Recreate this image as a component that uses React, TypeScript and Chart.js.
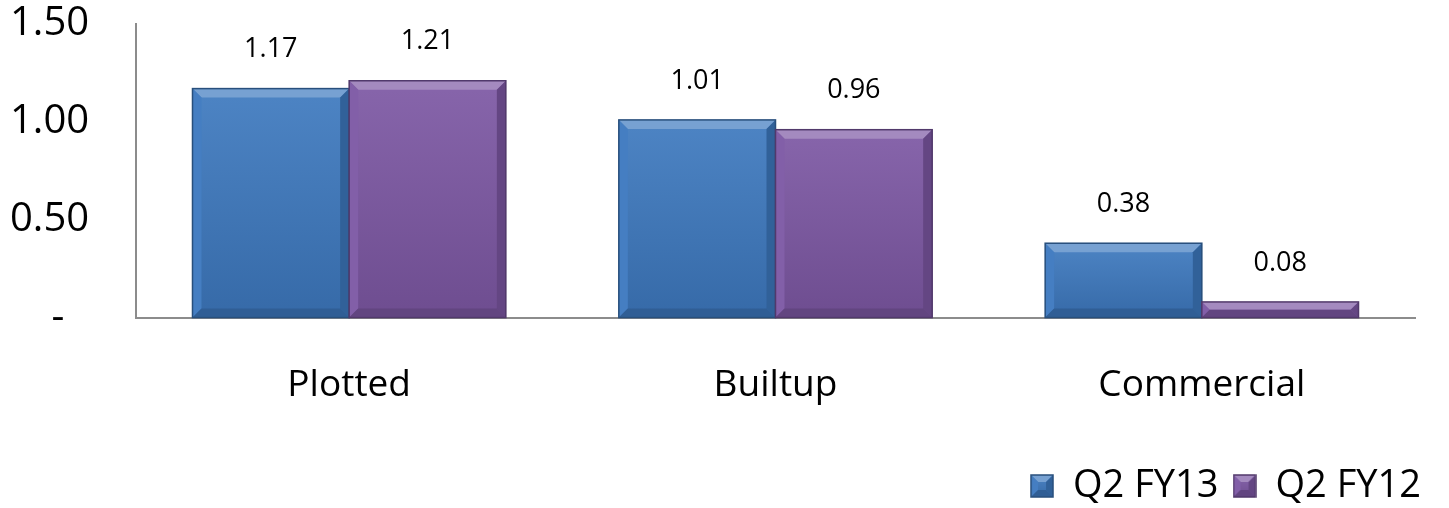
import React, { useEffect, useRef } from "react";
import { Chart, registerables } from "chart.js";

Chart.register(...registerables);

const categories = ["Plotted", "Builtup", "Commercial"];
const seriesLabels = ["Q2 FY13", "Q2 FY12"];
const q2fy13 = [1.17, 1.01, 0.38];
const q2fy12 = [1.21, 0.96, 0.08];
const yTicks = [0, 0.5, 1.0, 1.5];
const seriesColors = ["#3d79bf", "#7d58a4"];

const FONT = "'Open Sans', 'DejaVu Sans', sans-serif";

const shade = (hex: string, amt: number) => {
  const n = parseInt(hex.slice(1), 16);
  const r = (n >> 16) & 255, g = (n >> 8) & 255, b = n & 255;
  const f = (c: number) =>
    Math.max(0, Math.min(255, Math.round(amt >= 0 ? c + (255 - c) * amt : c * (1 + amt))));
  return `rgb(${f(r)},${f(g)},${f(b)})`;
};

const drawBevelRect = (ctx: CanvasRenderingContext2D, l: number, t: number, w: number, h: number, base: string, bevel: number) => {
  const r = l + w, bt = t + h;
  const bv = Math.min(bevel, h / 2, w / 2);
  const g = ctx.createLinearGradient(0, t, 0, bt);
  g.addColorStop(0, shade(base, 0.08));
  g.addColorStop(1, shade(base, -0.12));
  ctx.fillStyle = g;
  ctx.fillRect(l, t, w, h);
  ctx.fillStyle = shade(base, 0.3);
  ctx.beginPath();
  ctx.moveTo(l, t); ctx.lineTo(r, t); ctx.lineTo(r - bv, t + bv); ctx.lineTo(l + bv, t + bv); ctx.closePath(); ctx.fill();
  ctx.fillStyle = shade(base, 0.04);
  ctx.beginPath();
  ctx.moveTo(l, t); ctx.lineTo(l + bv, t + bv); ctx.lineTo(l + bv, bt - bv); ctx.lineTo(l, bt); ctx.closePath(); ctx.fill();
  ctx.fillStyle = shade(base, -0.2);
  ctx.beginPath();
  ctx.moveTo(r, t); ctx.lineTo(r - bv, t + bv); ctx.lineTo(r - bv, bt - bv); ctx.lineTo(r, bt); ctx.closePath(); ctx.fill();
  ctx.fillStyle = shade(base, -0.22);
  ctx.beginPath();
  ctx.moveTo(l, bt); ctx.lineTo(l + bv, bt - bv); ctx.lineTo(r - bv, bt - bv); ctx.lineTo(r, bt); ctx.closePath(); ctx.fill();
  ctx.strokeStyle = shade(base, -0.35);
  ctx.lineWidth = 1.5;
  ctx.strokeRect(l, t, w, h);
};

const makeLegendIcon = (base: string) => {
  const c = document.createElement("canvas");
  c.width = 24; c.height = 24;
  const ctx = c.getContext("2d")!;
  drawBevelRect(ctx, 1, 1, 22, 22, base, 7);
  return c;
};

const bevelPlugin = {
  id: "bevel",
  afterLayout(chart: any) {
    if (chart.legend) {
      chart.legend.top += 7;
      chart.legend.bottom += 7;
    }
  },
  afterDatasetsDraw(chart: any) {
    const ctx = chart.ctx;
    chart.data.datasets.forEach((ds: any, di: number) => {
      const meta = chart.getDatasetMeta(di);
      meta.data.forEach((bar: any) => {
        const { x, y, base, width } = bar.getProps(["x", "y", "base", "width"], true);
        ctx.save();
        drawBevelRect(ctx, x - width / 2, y, width, base - y, seriesColors[di], 9);
        ctx.restore();
      });
    });
  },
  afterDraw(chart: any) {
    const ctx = chart.ctx;
    ctx.save();
    ctx.fillStyle = "#000";
    ctx.font = `27px ${FONT}`;
    ctx.textAlign = "center";
    ctx.textBaseline = "middle";
    chart.data.datasets.forEach((ds: any, di: number) => {
      const meta = chart.getDatasetMeta(di);
      meta.data.forEach((bar: any, i: number) => {
        const { x, y } = bar.getProps(["x", "y"], true);
        ctx.fillText(Number(ds.data[i]).toFixed(2), x, y - 39);
      });
    });
    ctx.restore();
  },
};

export default function App() {
  const ref = useRef<HTMLCanvasElement>(null);
  useEffect(() => {
    document.body.style.margin = "0";
    const icons = seriesColors.map(makeLegendIcon);
    const chart = new Chart(ref.current!, {
      type: "bar",
      data: {
        labels: categories,
        datasets: [
          { label: seriesLabels[0], data: q2fy13, backgroundColor: seriesColors[0], borderWidth: 0 },
          { label: seriesLabels[1], data: q2fy12, backgroundColor: seriesColors[1], borderWidth: 0 },
        ],
      },
      options: {
        animation: false,
        responsive: true,
        maintainAspectRatio: false,
        layout: { padding: { top: 2, right: 14, left: 10, bottom: 0 } },
        datasets: { bar: { categoryPercentage: 0.735, barPercentage: 1 } },
        scales: {
          x: {
            grid: { display: false, drawTicks: false },
            border: { color: "#8c8c8c", width: 2 },
            ticks: { color: "#000", font: { family: FONT, size: 37 }, padding: 46 },
            afterFit: (axis: any) => {
              axis.height = axis.height - 8;
            },
          },
          y: {
            min: 0,
            max: 1.5,
            afterBuildTicks: (axis: any) => {
              axis.ticks = yTicks.map((v) => ({ value: v }));
            },
            afterFit: (axis: any) => {
              axis.width = 126;
            },
            grid: { display: false, drawTicks: false },
            border: { color: "#8c8c8c", width: 2 },
            ticks: {
              color: "#000",
              font: { family: FONT, size: 40 },
              padding: 0,
              crossAlign: "far",
              callback: (v: any) => (Number(v) === 0 ? "    -" : Number(v).toFixed(2)),
            },
          },
          yRight: {
            position: "right",
            display: true,
            grid: { display: false, drawTicks: false },
            border: { display: false },
            ticks: { display: false },
            afterFit: (axis: any) => {
              axis.width = 20;
            },
          },
        },
        plugins: {
          legend: {
            position: "bottom",
            align: "end",
            labels: {
              color: "#000",
              font: { family: FONT, size: 38 },
              usePointStyle: true,
              pointStyleWidth: 24,
              padding: 14,
              generateLabels: (ch: any) =>
                ch.data.datasets.map((ds: any, i: number) => ({
                  text: ds.label,
                  fillStyle: seriesColors[i],
                  strokeStyle: seriesColors[i],
                  lineWidth: 0,
                  pointStyle: icons[i],
                  hidden: false,
                  datasetIndex: i,
                  fontColor: "#000",
                })),
            },
          },
          tooltip: { enabled: false },
        },
      },
      plugins: [bevelPlugin],
    });
    return () => chart.destroy();
  }, []);
  return (
    <div style={{ width: "1449px", height: "508px", position: "relative" }}>
      <canvas ref={ref} />
    </div>
  );
}
